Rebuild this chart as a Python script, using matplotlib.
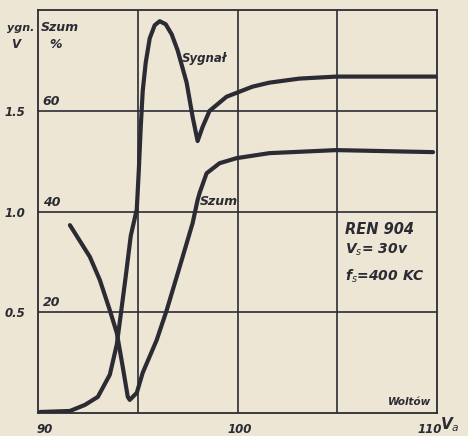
import matplotlib.pyplot as plt
import matplotlib.transforms as mtransforms

# Sygnał (V) vs anode voltage
sygnal_v = [90.1, 91.6, 92.35, 93.0, 93.6, 93.95, 94.15, 94.4, 94.65, 94.95, 95.05,
            95.15, 95.25, 95.4, 95.6, 95.85, 96.1, 96.4, 96.7, 97.0, 97.45, 97.75,
            98.0, 98.25, 98.6, 99.45, 100.75, 101.6, 103.1, 104.95, 109.95]
sygnal_y = [0.005, 0.01, 0.04, 0.08, 0.19, 0.34, 0.49, 0.68, 0.88, 1.01, 1.2,
            1.42, 1.6, 1.74, 1.86, 1.925, 1.945, 1.93, 1.88, 1.80, 1.64, 1.47,
            1.35, 1.42, 1.50, 1.57, 1.62, 1.64, 1.66, 1.67, 1.67]

# Szum (%) vs anode voltage
szum_v = [91.6, 92.6, 93.1, 93.6, 93.95, 94.25, 94.5, 94.6, 94.95, 95.25, 95.95,
          96.45, 97.1, 97.75, 98.0, 98.1, 98.45, 99.1, 99.95, 101.6, 104.95, 109.8]
szum_pct = [37.3, 31.0, 26.4, 20.4, 15.9, 9.1, 3.2, 2.6, 4.0, 8.0, 14.5,
            20.4, 29.0, 37.7, 42.3, 43.7, 47.6, 49.6, 50.6, 51.6, 52.2, 51.8]

x_ticks = [90, 100, 110]
v_ticks = [0.5, 1.0, 1.5]
pct_ticks = [20, 40, 60]

paper = "#ede6d5"
ink = "#2b2b33"

plt.rcParams["font.family"] = ["DejaVu Sans"]
plt.rcParams["mathtext.fontset"] = "dejavusans"

fig = plt.figure(figsize=(4.68, 4.36), dpi=100, facecolor=paper)
ax = fig.add_axes([0.0812, 0.0528, 0.8526, 0.924])
ax.set_facecolor(paper)
ax.set_xlim(90, 110)
ax.set_ylim(0, 2.0)

for s in ax.spines.values():
    s.set_color(ink)
    s.set_linewidth(1.3)

ax.set_xticks([95, 100, 105])
ax.set_yticks(v_ticks)
ax.grid(True, color=ink, linewidth=1.2)
ax.tick_params(length=0, labelbottom=False)
ax.set_yticklabels([f"{v:.1f}" for v in v_ticks], fontsize=8.5,
                   fontweight="bold", fontstyle="italic", color=ink)
ax.tick_params(axis="y", pad=9)

ax2 = ax.twinx()
ax2.set_ylim(0, 80)
ax2.set_yticks([])
for s in ax2.spines.values():
    s.set_visible(False)

ax.plot(sygnal_v, sygnal_y, color=ink, linewidth=3.0, solid_capstyle="round",
        solid_joinstyle="round")
ax2.plot(szum_v, szum_pct, color=ink, linewidth=3.0, solid_capstyle="round",
         solid_joinstyle="round")

txt = dict(color=ink, fontweight="bold", fontstyle="italic")

# Szum % labels inside the frame, just above grid lines
blend2 = mtransforms.blended_transform_factory(ax2.transAxes, ax2.transData)
for p in pct_ticks:
    ax2.text(0.012, p + 0.6, str(p), transform=blend2, fontsize=9,
             ha="left", va="bottom", **txt)

# x labels under the axis
blendx = mtransforms.blended_transform_factory(ax.transData, ax.transAxes)
ax.text(90.35, -0.025, "90", transform=blendx, fontsize=8.5, ha="center", va="top", **txt)
ax.text(100.1, -0.025, "100", transform=blendx, fontsize=8.5, ha="center", va="top", **txt)
ax.text(109.65, -0.025, "110", transform=blendx, fontsize=8.5, ha="center", va="top", **txt)
fig.text(0.983, 0.025, "V$_a$", fontsize=11, ha="right", va="center", **txt)

# axis headers
fig.text(0.015, 0.935, "ygn.", fontsize=8, ha="left", va="center", **txt)
fig.text(0.034, 0.897, "V", fontsize=8.5, ha="center", va="center", **txt)
fig.text(0.088, 0.937, "Szum", fontsize=9, ha="left", va="center", **txt)
fig.text(0.118, 0.897, "%", fontsize=9, ha="center", va="center", **txt)

# curve labels and notes
ax.text(97.2, 1.76, "Sygnał", fontsize=8.5, ha="left", va="center", **txt)
ax.text(98.1, 1.05, "Szum", fontsize=9, ha="left", va="center", **txt)
ax.text(105.4, 0.91, "REN 904", fontsize=10.5, ha="left", va="center", **txt)
ax.text(105.4, 0.81, "V$_s$= 30v", fontsize=10, ha="left", va="center", **txt)
ax.text(105.4, 0.68, "f$_s$=400 KC", fontsize=10, ha="left", va="center", **txt)
ax.text(109.7, 0.03, "Woltów", fontsize=7.5, ha="right", va="bottom", **txt)

fig.savefig("out.png", dpi=100, facecolor=paper)
